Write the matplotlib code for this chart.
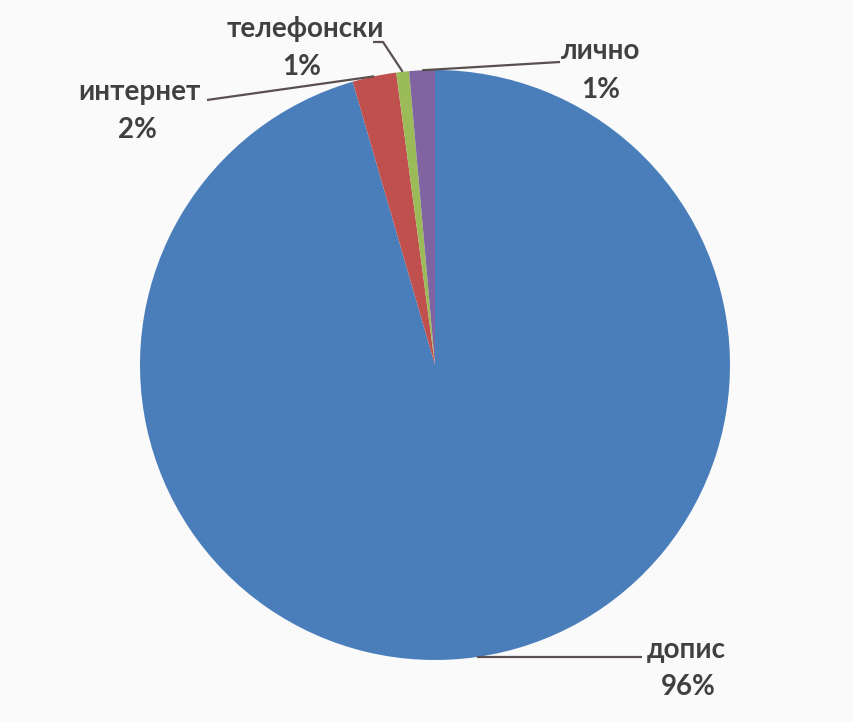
import numpy as np
import matplotlib.pyplot as plt

# values (percent shares)
labels = ['допис', 'интернет', 'телефонски', 'лично']
values = [95.5, 2.4, 0.7, 1.4]
shown = ['96%', '2%', '1%', '1%']
colors = ['#4a7ebb', '#c0504d', '#9bbb59', '#8064a2']

W, H = 854, 722
fig = plt.figure(figsize=(W / 100, H / 100), dpi=100, facecolor='#fafafa')

# pie centre (435, 365) px, radius 295 px
cx, cy, r = 435, 365, 295
ax = fig.add_axes([(cx - r) / W, (H - cy - r) / H, 2 * r / W, 2 * r / H])
ax.pie(values, colors=colors, startangle=90, counterclock=False,
       wedgeprops=dict(linewidth=0))
ax.set_xlim(-1, 1)
ax.set_ylim(-1, 1)
ax.set_aspect('equal')
ax.axis('off')


def px(x, y):
    return (x - cx) / r, (cy - y) / r


# midpoint of each wedge on the rim
tot = sum(values)
ends = np.cumsum(values) / tot * 360
mids = ends - np.array(values) / tot * 360 / 2
rim = [(np.cos(np.radians(90 - m)), np.sin(np.radians(90 - m))) for m in mids]

txt = dict(fontsize=20, color='#404040', fontfamily='Lato', fontweight='bold',
           ha='center', va='baseline')
lc = dict(color='#5a5050', lw=1.6, solid_capstyle='butt', clip_on=False)


def label(i, x1, y1, x2, y2):
    ax.text(*px(x1, y1), labels[i], **txt)
    ax.text(*px(x2, y2), shown[i], **txt)


# допис
x0, y0 = px(642, 657)
ax.plot([rim[0][0], x0], [rim[0][1], rim[0][1]], **lc)
label(0, 686, 658, 688, 695)

# интернет
x0, y0 = px(207, 100)
ax.plot([rim[1][0], x0], [rim[1][1], y0], **lc)
label(1, 139, 100, 137, 138)

# телефонски
xa, ya = px(383, 42)
xb, yb = px(373, 42)
ax.plot([rim[2][0], xa, xb], [rim[2][1], ya, yb], **lc)
label(2, 305, 37, 302, 75)

# лично
x0, y0 = px(560, 62)
ax.plot([rim[3][0], x0], [rim[3][1], y0], **lc)
label(3, 601, 59, 601, 98)

fig.savefig('out.png', dpi=100, facecolor=fig.get_facecolor())
